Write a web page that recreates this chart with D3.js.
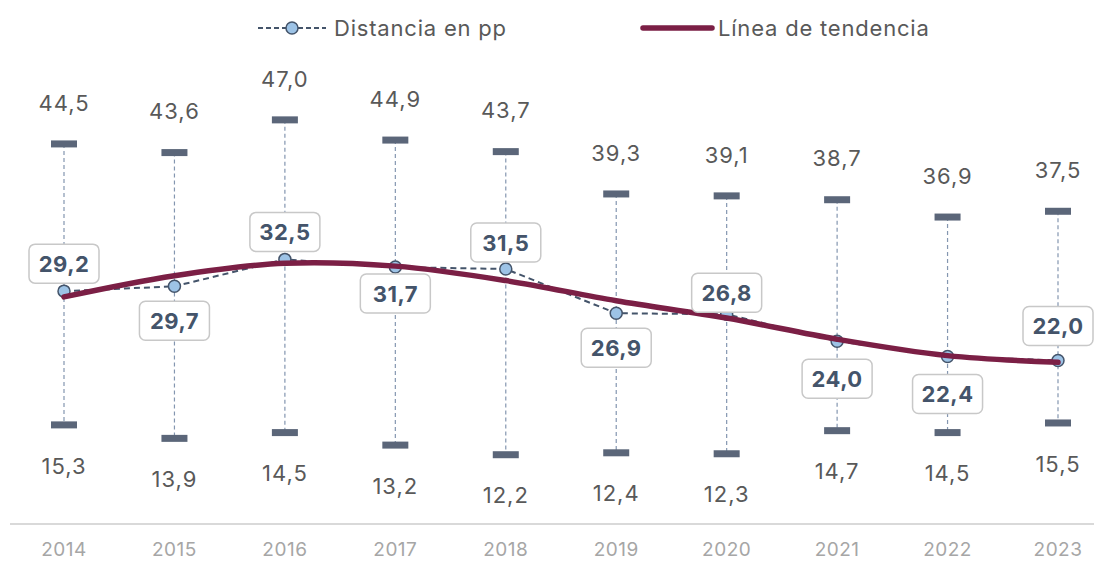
<!DOCTYPE html>
<html>
<head>
<meta charset="utf-8">
<script src="https://cdn.jsdelivr.net/npm/d3@7"></script>
<style>
  body { margin: 0; background: #fff; }
  text { font-family: Inter, "Open Sans", sans-serif; }
</style>
</head>
<body>
<svg width="1094" height="562"></svg>
<script>
// data
const years = ["2014", "2015", "2016", "2017", "2018", "2019", "2020", "2021", "2022", "2023"];
const distance = [29.2, 29.7, 32.5, 31.7, 31.5, 26.9, 26.8, 24.0, 22.4, 22.0];
const highValues = [44.5, 43.6, 47.0, 44.9, 43.7, 39.3, 39.1, 38.7, 36.9, 37.5];
const lowValues = [15.3, 13.9, 14.5, 13.2, 12.2, 12.4, 12.3, 14.7, 14.5, 15.5];
const trendValues = [28.6, 30.8, 32.1, 31.8, 30.3, 28.2, 26.4, 24.2, 22.5, 21.8];

const svg = d3.select("svg");
const fmt = (v) => v.toFixed(1).replace(".", ",");

const x = d3.scalePoint().domain(years).range([64, 1058]);
const y = d3.scaleLinear().domain([5, 50]).range([524, 91]);

// x axis line and labels
svg.append("line")
  .attr("x1", 10).attr("x2", 1094)
  .attr("y1", 524).attr("y2", 524)
  .attr("stroke", "#d9d9d9").attr("stroke-width", 2);

svg.append("g").selectAll("text")
  .data(years)
  .enter().append("text")
  .attr("x", (d) => x(d))
  .attr("y", 549)
  .attr("dy", "0.35em")
  .attr("text-anchor", "middle")
  .attr("fill", "#a6a6a6")
  .attr("font-size", 19)
  .attr("letter-spacing", 0.5)
  .text((d) => d);

// whiskers
const wg = svg.append("g");
years.forEach((yr, i) => {
  wg.append("line")
    .attr("x1", x(yr)).attr("x2", x(yr))
    .attr("y1", y(highValues[i])).attr("y2", y(lowValues[i]))
    .attr("stroke", "#8496b0").attr("stroke-width", 1.2)
    .attr("stroke-dasharray", "4,3");
  [highValues[i], lowValues[i]].forEach((v) => {
    wg.append("rect")
      .attr("x", x(yr) - 13).attr("y", y(v) - 3.5)
      .attr("width", 26).attr("height", 7)
      .attr("fill", "#5b6679");
  });
  [[highValues[i], -41], [lowValues[i], 41]].forEach(([v, off]) => {
    wg.append("text")
      .attr("x", x(yr)).attr("y", y(v) + off)
      .attr("dy", "0.35em")
      .attr("text-anchor", "middle")
      .attr("fill", "#595959").attr("font-size", 22)
      .attr("letter-spacing", 1)
      .text(fmt(v));
  });
});

// dashed distance line with markers
const line = d3.line().x((d, i) => x(years[i])).y((d) => y(d));
svg.append("path")
  .datum(distance)
  .attr("d", line)
  .attr("fill", "none")
  .attr("stroke", "#44546a").attr("stroke-width", 2)
  .attr("stroke-dasharray", "6,4");

svg.append("g").selectAll("circle")
  .data(distance)
  .enter().append("circle")
  .attr("cx", (d, i) => x(years[i]))
  .attr("cy", (d) => y(d))
  .attr("r", 6)
  .attr("fill", "#9dc3e6")
  .attr("stroke", "#44546a").attr("stroke-width", 1.5);

// trend line
const trend = d3.line()
  .x((d, i) => x(years[i])).y((d) => y(d))
  .curve(d3.curveCatmullRom);
svg.append("path")
  .datum(trendValues)
  .attr("d", trend)
  .attr("fill", "none")
  .attr("stroke", "#7b1f45").attr("stroke-width", 5.5)
  .attr("stroke-linecap", "round");

// value labels in boxes (negative offset = above the point)
const offsets = [-27, 35, -27, 27, -26, 35, -21, 38, 38, -34];
const lg = svg.append("g").selectAll("g")
  .data(distance)
  .enter().append("g")
  .attr("transform", (d, i) => `translate(${x(years[i])},${y(d) + offsets[i]})`);
lg.append("rect")
  .attr("x", -35).attr("y", -20)
  .attr("width", 70).attr("height", 39)
  .attr("rx", 6)
  .attr("fill", "#fff")
  .attr("stroke", "#c8c8c8").attr("stroke-width", 1.5);
lg.append("text")
  .attr("text-anchor", "middle")
  .attr("dy", "0.36em")
  .attr("fill", "#44546a")
  .attr("font-size", 22).attr("font-weight", "bold")
  .attr("letter-spacing", 0.5)
  .text((d) => fmt(d));

// legend
const leg = svg.append("g");
leg.append("line")
  .attr("x1", 258).attr("x2", 326).attr("y1", 28).attr("y2", 28)
  .attr("stroke", "#44546a").attr("stroke-width", 2)
  .attr("stroke-dasharray", "5,3");
leg.append("circle")
  .attr("cx", 292).attr("cy", 28).attr("r", 6)
  .attr("fill", "#9dc3e6")
  .attr("stroke", "#44546a").attr("stroke-width", 1.5);
leg.append("text")
  .attr("x", 334).attr("y", 28).attr("dy", "0.35em")
  .attr("fill", "#595959").attr("font-size", 22)
  .attr("letter-spacing", 0.8)
  .text("Distancia en pp");
leg.append("line")
  .attr("x1", 643).attr("x2", 712).attr("y1", 28).attr("y2", 28)
  .attr("stroke", "#7b1f45").attr("stroke-width", 5.5)
  .attr("stroke-linecap", "round");
leg.append("text")
  .attr("x", 718).attr("y", 28).attr("dy", "0.35em")
  .attr("fill", "#595959").attr("font-size", 22)
  .attr("letter-spacing", 0.8)
  .text("Línea de tendencia");
</script>
</body>
</html>
